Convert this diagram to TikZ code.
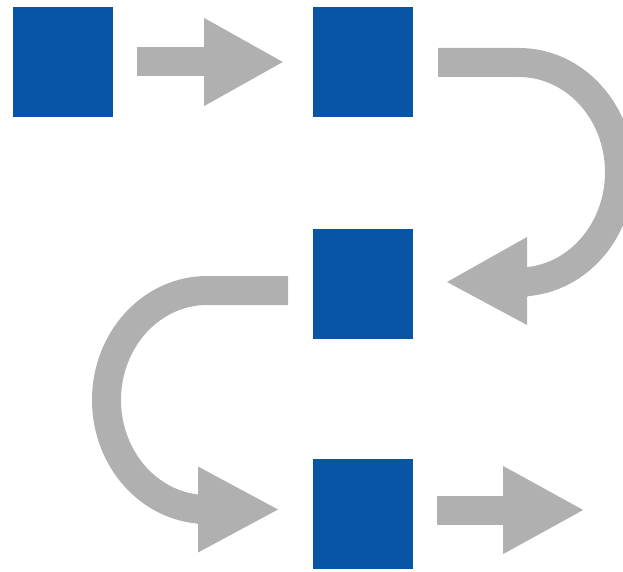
\documentclass[tikz,border=0pt]{standalone}
\definecolor{boxblue}{RGB}{8,84,165}
\definecolor{arrgray}{RGB}{176,176,176}
\tikzset{
  blockbox/.style={rectangle, fill=boxblue, draw=none, inner sep=0pt, minimum width=100pt, minimum height=110pt},
  shaft/.style={draw=arrgray, line width=29pt, line cap=butt},
  headtip/.style={fill=arrgray, draw=none}
}
\begin{document}
\begin{tikzpicture}[x=1pt,y=1pt]
\useasboundingbox (0,0) rectangle (623,571);
\clip (0,0) rectangle (623,571);
% boxes
\node[blockbox] (b1) at (63,509) {};
\node[blockbox] (b2) at (363,509) {};
\node[blockbox] (b3) at (363,287) {};
\node[blockbox] (b4) at (363,57) {};
% arrow 1: b1 -> b2
\coordinate (a1s) at ([xshift=24pt]b1.east);
\coordinate (a1b) at ([xshift=91pt]b1.east);
\coordinate (a1t) at ([xshift=-30pt]b2.west);
\draw[shaft] (a1s) -- ([xshift=1pt]a1b);
\fill[headtip] ([yshift=44pt]a1b) -- (a1t) -- ([yshift=-44pt]a1b) -- cycle;
% arrow 2: b2 -> b3 (curved right)
\coordinate (a2s) at (438,508.5);
\coordinate (a2b) at (527,289);
\coordinate (a2t) at (447,289);
\draw[shaft] (a2s) -- (519,508.5) arc[start angle=90, end angle=-90, x radius=100.5, y radius=109.75] -- ([xshift=1pt]a2b);
\fill[headtip] ([yshift=45pt]a2b) -- (a2t) -- ([yshift=-43pt]a2b) -- cycle;
% arrow 3: b3 -> b4 (curved left)
\coordinate (a3s) at (288,280.5);
\coordinate (a3b) at (198,61.5);
\coordinate (a3t) at (278,61.5);
\draw[shaft] (a3s) -- (207,280.5) arc[start angle=90, end angle=270, x radius=100.5, y radius=109.5] -- ([xshift=-1pt]a3b);
\fill[headtip] ([yshift=43pt]a3b) -- (a3t) -- ([yshift=-43pt]a3b) -- cycle;
% arrow 4: b4 -> out
\coordinate (a4s) at ([xshift=24pt]b4.east);
\coordinate (a4b) at ([xshift=90pt]b4.east);
\coordinate (a4t) at ([xshift=170pt]b4.east);
\draw[shaft] ([yshift=4pt]a4s) -- ([yshift=4pt,xshift=1pt]a4b);
\fill[headtip] ([yshift=48pt]a4b) -- ([yshift=4pt]a4t) -- ([yshift=-40pt]a4b) -- cycle;
\end{tikzpicture}
\end{document}
